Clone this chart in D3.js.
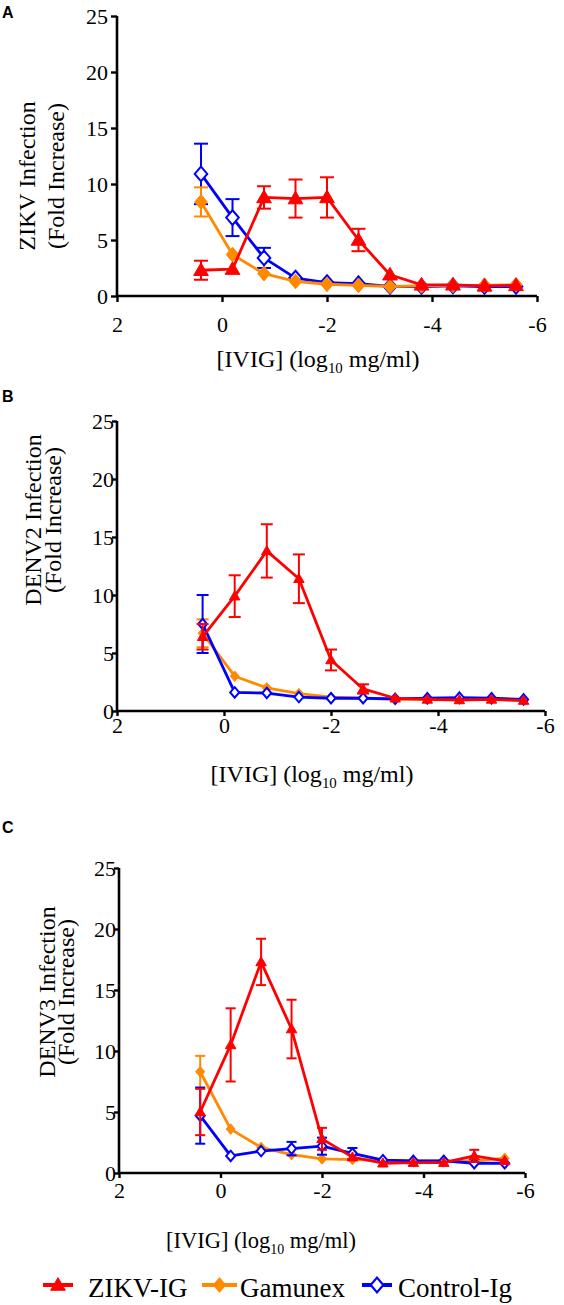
<!DOCTYPE html>
<html><head><meta charset="utf-8">
<script src="https://cdn.jsdelivr.net/npm/d3@7"></script>
<style>
body{margin:0;background:#fff}
svg{display:block}
text{font-family:"Liberation Serif","Times New Roman",serif;fill:#000}
</style>
</head><body>
<svg id="chart" width="564" height="1305"></svg>
<script>
// ---------- data ----------
const doses = [0.4, -0.2, -0.8, -1.4, -2.0, -2.6, -3.2, -3.8, -4.4, -5.0, -5.6];
const xTicks = [2, 0, -2, -4, -6];
const yTicks = [0, 5, 10, 15, 20, 25];
const seriesNames = ["ZIKV-IG", "Gamunex", "Control-Ig"];
const panelLetters = ["A", "B", "C"];
const yTitleLine1 = ["ZIKV Infection", "DENV2 Infection", "DENV3 Infection"];
const yTitleLine2 = ["(Fold Increase)", "(Fold Increase)", "(Fold Increase)"];

// Panel A (ZIKV)
const zikvA    = [2.3, 2.4, 8.8, 8.7, 8.8, 5.0, 1.9, 1.0, 1.0, 0.9, 0.95];
const zikvAErr = [0.85, 0.1, 1.0, 1.7, 1.8, 1.0, 0.2, 0.1, 0.1, 0.1, 0.1];
const gamA     = [8.4, 3.7, 2.0, 1.3, 1.05, 0.95, 0.85, 0.9, 0.95, 0.95, 1.0];
const gamAErr  = [1.3, 0.2, 0.2, 0.1, 0.1, 0.1, 0.05, 0.05, 0.05, 0.05, 0.05];
const ctrlA    = [10.9, 7.0, 3.4, 1.6, 1.2, 1.1, 0.85, 0.85, 0.9, 0.85, 0.85];
const ctrlAErr = [2.7, 1.65, 0.9, 0.2, 0.1, 0.1, 0.1, 0.05, 0.05, 0.05, 0.05];

// Panel B (DENV2)
const zikvB    = [6.4, 9.9, 13.8, 11.4, 4.4, 1.9, 1.1, 1.0, 0.95, 1.0, 0.9];
const zikvBErr = [1.1, 1.8, 2.3, 2.1, 0.9, 0.4, 0.1, 0.1, 0.1, 0.1, 0.1];
const gamB     = [6.7, 3.0, 2.0, 1.5, 1.2, 1.1, 1.0, 1.0, 1.0, 1.0, 0.95];
const gamBErr  = [1.2, 0.1, 0.1, 0.1, 0.05, 0.05, 0.05, 0.05, 0.05, 0.05, 0.05];
const ctrlB    = [7.5, 1.6, 1.55, 1.2, 1.1, 1.1, 1.05, 1.1, 1.15, 1.1, 1.0];
const ctrlBErr = [2.5, 0.1, 0.1, 0.1, 0.05, 0.05, 0.05, 0.05, 0.05, 0.05, 0.05];

// Panel C (DENV3)
const zikvC    = [5.0, 10.5, 17.3, 11.8, 2.8, 1.3, 0.8, 0.85, 0.85, 1.4, 1.0];
const zikvCErr = [1.9, 3.0, 1.9, 2.4, 0.9, 0.2, 0.1, 0.1, 0.1, 0.5, 0.1];
const gamC     = [8.3, 3.6, 2.1, 1.5, 1.15, 1.1, 1.05, 1.0, 1.0, 1.0, 1.2];
const gamCErr  = [1.3, 0.1, 0.1, 0.1, 0.05, 0.05, 0.05, 0.05, 0.05, 0.05, 0.05];
const ctrlC    = [4.7, 1.4, 1.8, 2.0, 2.2, 1.6, 1.05, 1.0, 1.0, 0.8, 0.8];
const ctrlCErr = [2.3, 0.1, 0.2, 0.55, 0.7, 0.45, 0.15, 0.1, 0.1, 0.15, 0.1];

// ---------- styles / layout ----------
const SERIF = "'Liberation Serif','Times New Roman',serif";
const colors = {zikv: "#ff0000", gam: "#ff8a00", ctrl: "#0000ff"};
const panels = [
  {series: {zikv: [zikvA, zikvAErr], gam: [gamA, gamAErr], ctrl: [ctrlA, ctrlAErr]},
   order: ["ctrl", "gam", "zikv"],
   x0: 117, x1: 537, y0: 296, y1: 16, ylabX: 108, xTickY: 332,
   xTitle: [318, 367, 24], yTitle: [176, 35, 64], letterY: 18, ms: 7, cap: 14, tick: 6},
  {series: {zikv: [zikvB, zikvBErr], gam: [gamB, gamBErr], ctrl: [ctrlB, ctrlBErr]},
   order: ["gam", "ctrl", "zikv"],
   x0: 117, x1: 545, y0: 711, y1: 421, ylabX: 114, xTickY: 733,
   xTitle: [312, 782, 24], yTitle: [520, 41, 61], letterY: 402, ms: 5, cap: 12, tick: 5},
  {series: {zikv: [zikvC, zikvCErr], gam: [gamC, gamCErr], ctrl: [ctrlC, ctrlCErr]},
   order: ["gam", "ctrl", "zikv"],
   x0: 119, x1: 525, y0: 1173, y1: 868, ylabX: 116, xTickY: 1198,
   xTitle: [261, 1248, 22.5], yTitle: [992, 55, 74], letterY: 833, ms: 5, cap: 10, tick: 5}
];

function markerPath(kind, s) {
  if (kind === "zikv") return `M0,${-s * 1.05}L${s * 1.05},${s * 0.75}L${-s * 1.05},${s * 0.75}Z`;
  return `M0,${-s * 1.05}L${s * 0.9},0L0,${s * 1.05}L${-s * 0.9},0Z`;
}

const svg = d3.select("#chart");

panels.forEach((p, pi) => {
  const x = d3.scaleLinear().domain([2, -6]).range([p.x0, p.x1]);
  const y = d3.scaleLinear().domain([0, 25]).range([p.y0, p.y1]);
  const g = svg.append("g");

  // panel letter
  g.append("text").attr("x", 2).attr("y", p.letterY)
    .style("font-family", "'Liberation Sans',Arial,sans-serif")
    .style("font-weight", "bold").style("font-size", "16px")
    .text(panelLetters[pi]);

  // axes
  const yAxis = d3.axisLeft(y).tickValues(yTicks).tickSize(p.tick).tickPadding(p.x0 - p.tick - p.ylabX);
  const ya = g.append("g").attr("transform", `translate(${p.x0},0)`).call(yAxis);
  const xAxis = d3.axisBottom(x).tickValues(xTicks).tickSize(p.tick).tickFormat(d3.format("d"));
  const xa = g.append("g").attr("transform", `translate(0,${p.y0})`).call(xAxis);
  [ya, xa].forEach(a => {
    a.attr("font-family", SERIF).attr("font-size", 22);
    a.select(".domain").attr("stroke", "#000").attr("stroke-width", 2.6)
      .attr("d", a === ya ? `M0,${p.y0}V${p.y1}` : `M${p.x0},0H${p.x1}`);
    a.selectAll(".tick line").attr("stroke", "#000").attr("stroke-width", 2.4);
    a.selectAll(".tick text").style("font-family", SERIF).style("font-size", "22px").attr("fill", "#000");
  });
  ya.selectAll(".tick text").attr("dy", "0.34em");
  xa.selectAll(".tick text").attr("dy", null).attr("y", p.xTickY - p.y0);
  xa.selectAll(".tick text").text(d => d < 0 ? "-" + Math.abs(d) : d);

  // axis titles
  const xt = g.append("text").attr("x", p.xTitle[0]).attr("y", p.xTitle[1])
    .attr("text-anchor", "middle").style("font-family", SERIF).style("font-size", p.xTitle[2] + "px");
  xt.append("tspan").text("[IVIG] (log");
  xt.append("tspan").attr("dy", 6).style("font-size", (p.xTitle[2] * 0.62) + "px").text("10");
  xt.append("tspan").attr("dy", -6).text(" mg/ml)");

  [yTitleLine1[pi], yTitleLine2[pi]].forEach((t, li) => {
    const bx = li === 0 ? p.yTitle[1] : p.yTitle[2];
    g.append("text").attr("transform", `translate(${bx},${p.yTitle[0]}) rotate(-90)`)
      .attr("text-anchor", "middle").style("font-family", SERIF).style("font-size", "24px").text(t);
  });

  // series
  p.order.forEach(key => {
    const [vals, errs] = p.series[key];
    const pts = doses.map((d, i) => ({x: d, y: vals[i], e: errs[i]}));
    const col = colors[key];
    const sg = g.append("g");
    // error bars
    const eb = sg.selectAll(".eb").data(pts.filter(d => d.e >= 0.3)).join("g");
    eb.append("line").attr("x1", d => x(d.x)).attr("x2", d => x(d.x))
      .attr("y1", d => y(d.y + d.e)).attr("y2", d => y(d.y - d.e))
      .attr("stroke", col).attr("stroke-width", 2);
    [1, -1].forEach(sgn => {
      eb.append("line").attr("x1", d => x(d.x) - p.cap / 2).attr("x2", d => x(d.x) + p.cap / 2)
        .attr("y1", d => y(d.y + sgn * d.e)).attr("y2", d => y(d.y + sgn * d.e))
        .attr("stroke", col).attr("stroke-width", 2);
    });
    // line
    sg.append("path").datum(pts)
      .attr("d", d3.line().x(d => x(d.x)).y(d => y(d.y)))
      .attr("fill", "none").attr("stroke", col).attr("stroke-width", 2.8).attr("stroke-linejoin", "round");
    // markers
    sg.selectAll(".mk").data(pts).join("path")
      .attr("transform", d => `translate(${x(d.x)},${y(d.y)})`)
      .attr("d", markerPath(key, p.ms))
      .attr("fill", key === "ctrl" ? "#fff" : col)
      .attr("stroke", col).attr("stroke-width", key === "ctrl" ? 2 : 1);
  });
});

// ---------- legend ----------
const legendKeys = ["zikv", "gam", "ctrl"];
const legendPos = [[43, 73, 88], [202, 237, 240], [362, 392, 398]];
const lg = svg.append("g");
legendKeys.forEach((k, i) => {
  const [a, b, tx] = legendPos[i];
  const col = colors[k];
  lg.append("line").attr("x1", a).attr("x2", b).attr("y1", 1285).attr("y2", 1285)
    .attr("stroke", col).attr("stroke-width", 4);
  lg.append("path").attr("transform", `translate(${(a + b) / 2},1285)`)
    .attr("d", markerPath(k, 7))
    .attr("fill", k === "ctrl" ? "#fff" : col).attr("stroke", col).attr("stroke-width", k === "ctrl" ? 2.2 : 1);
  lg.append("text").attr("x", tx).attr("y", 1297).style("font-family", SERIF).style("font-size", "27px").text(seriesNames[i]);
});
</script>
</body></html>
